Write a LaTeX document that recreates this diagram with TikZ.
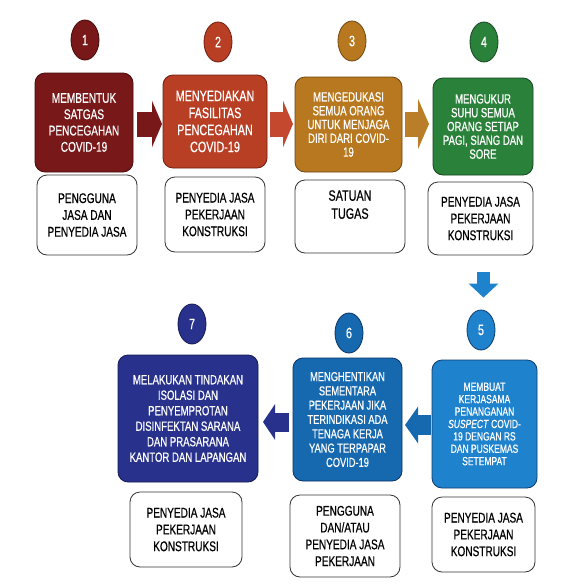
\documentclass[tikz,border=0pt]{standalone}
\usepackage{fontspec}
\newfontfamily\nar[FakeStretch=0.72,FakeBold=0.6]{Liberation Sans}
\usetikzlibrary{shapes.geometric,arrows.meta,calc}
\definecolor{cA}{RGB}{120,24,24}
\definecolor{cAd}{RGB}{70,10,10}
\definecolor{cB}{RGB}{184,62,36}
\definecolor{cBd}{RGB}{110,30,15}
\definecolor{cC}{RGB}{184,120,32}
\definecolor{cCd}{RGB}{110,70,15}
\definecolor{cD}{RGB}{42,130,58}
\definecolor{cDd}{RGB}{20,70,30}
\definecolor{cE}{RGB}{30,130,205}
\definecolor{cEd}{RGB}{15,60,110}
\definecolor{cF}{RGB}{22,105,175}
\definecolor{cFd}{RGB}{10,50,100}
\definecolor{cG}{RGB}{40,50,140}
\definecolor{cGd}{RGB}{20,25,80}
\definecolor{aB}{RGB}{195,72,45}
\definecolor{aC}{RGB}{186,126,40}
\begin{document}
\begin{tikzpicture}[x=1pt,y=-1pt,
  cbox/.style={rectangle,rounded corners=10pt,line width=0.8pt,inner sep=1pt,outer sep=0pt,
     align=center,text=white},
  wbox/.style={rectangle,rounded corners=10pt,draw=black!80,line width=0.8pt,fill=white,
     inner sep=1pt,outer sep=0pt,align=center,text=black,
     font=\nar\fontsize{14}{16.8}\selectfont},
  numell/.style={ellipse,minimum width=28pt,minimum height=40pt,inner sep=0pt,line width=0.8pt,
     text=white,font=\nar\fontsize{15}{16}\selectfont}
]
\useasboundingbox (0,0) rectangle (571,584);
\fill[white] (0,0) rectangle (571,584);

% circles
\node[numell,fill=cA,draw=cAd] (c1) at (85,40) {1};
\node[numell,fill=cB,draw=cBd] (c2) at (218,42) {2};
\node[numell,fill=cC,draw=cCd] (c3) at (352,41) {3};
\node[numell,fill=cD,draw=cDd] (c4) at (484,42) {4};
\node[numell,fill=cE,draw=cEd] (c5) at (481,330) {5};
\node[numell,fill=cF,draw=cFd] (c6) at (349,333) {6};
\node[numell,fill=cG,draw=cGd] (c7) at (192,324) {7};

% row 1 coloured boxes
\node[cbox,fill=cA,draw=cAd,minimum width=98pt,minimum height=99pt,
  font=\nar\fontsize{14}{16.3}\selectfont] (b1) at (84,122.5)
  {MEMBENTUK\\SATGAS\\PENCEGAHAN\\COVID-19};
\node[cbox,fill=cB,draw=cBd,minimum width=104pt,minimum height=93pt,
  font=\nar\fontsize{15}{17}\selectfont] (b2) at (215,121.5)
  {MENYEDIAKAN\\FASILITAS\\PENCEGAHAN\\COVID-19};
\node[cbox,fill=cC,draw=cCd,minimum width=107pt,minimum height=95pt,
  font=\nar\fontsize{13.3}{13.8}\selectfont] (b3) at (348.5,124.5)
  {MENGEDUKASI\\SEMUA ORANG\\UNTUK MENJAGA\\DIRI DARI COVID-\\19};
\node[cbox,fill=cD,draw=cDd,minimum width=100pt,minimum height=97pt,
  font=\nar\fontsize{13.3}{13.8}\selectfont] (b4) at (483,126.5)
  {MENGUKUR\\SUHU SEMUA\\ORANG SETIAP\\PAGI, SIANG DAN\\SORE};

% row 1 white boxes
\node[wbox,minimum width=100pt,minimum height=80pt] (w1) at (87,215)
  {PENGGUNA\\JASA DAN\\PENYEDIA JASA};
\node[wbox,minimum width=100pt,minimum height=75pt] (w2) at (215,214.5)
  {PENYEDIA JASA\\PEKERJAAN\\KONSTRUKSI};
\node[wbox,minimum width=110pt,minimum height=73pt,font=\nar\fontsize{15}{18}\selectfont] (w3) at (350,216.5)
  {SATUAN\\TUGAS\\[6pt]};
\node[wbox,minimum width=105pt,minimum height=73pt] (w4) at (480.5,218.5)
  {PENYEDIA JASA\\PEKERJAAN\\KONSTRUKSI};

% row 2 coloured boxes
\node[cbox,fill=cE,draw=cEd,minimum width=105pt,minimum height=128pt,
  font=\nar\fontsize{11.8}{12.4}\selectfont] (b5) at (484.5,424)
  {MEMBUAT\\KERJASAMA\\PENANGANAN\\\textit{SUSPECT} COVID-\\19 DENGAN RS\\DAN PUSKEMAS\\SETEMPAT};
\node[cbox,fill=cF,draw=cFd,minimum width=109pt,minimum height=123pt,
  font=\nar\fontsize{12.9}{14.3}\selectfont] (b6) at (347.5,419.5)
  {MENGHENTIKAN\\SEMENTARA\\PEKERJAAN JIKA\\TERINDIKASI ADA\\TENAGA KERJA\\YANG TERPAPAR\\COVID-19};
\node[cbox,fill=cG,draw=cGd,minimum width=140pt,minimum height=127pt,
  font=\nar\fontsize{13.3}{15.5}\selectfont] (b7) at (188,418.5)
  {MELAKUKAN TINDAKAN\\ISOLASI DAN\\PENYEMPROTAN\\DISINFEKTAN SARANA\\DAN PRASARANA\\KANTOR DAN LAPANGAN};

% row 2 white boxes
\node[wbox,minimum width=103pt,minimum height=75pt] (w5) at (483.5,534.5)
  {PENYEDIA JASA\\PEKERJAAN\\KONSTRUKSI};
\node[wbox,minimum width=110pt,minimum height=82pt] (w6) at (345,536)
  {PENGGUNA\\DAN/ATAU\\PENYEDIA JASA\\PEKERJAAN};
\node[wbox,minimum width=112pt,minimum height=75pt] (w7) at (186,529.5)
  {PENYEDIA JASA\\PEKERJAAN\\KONSTRUKSI};

% block arrows
\draw[cA,line width=25pt,-{Triangle[length=10pt,width=46pt]},shorten <=4pt,shorten >=1pt]
  ($(b1.east)+(0,1.5)$) -- ($(b1.east -| b2.west)+(0,1.5)$);
\draw[aB,line width=25pt,-{Triangle[length=10pt,width=46pt]},shorten <=3pt,shorten >=2pt]
  ($(b2.east)+(0,2.5)$) -- ($(b2.east -| b3.west)+(0,2.5)$);
\draw[aC,line width=25pt,-{Triangle[length=11pt,width=50pt]},shorten <=3pt,shorten >=4pt]
  ($(b3.east)+(0,-0.5)$) -- ($(b3.east -| b4.west)+(0,-0.5)$);
\coordinate (dtop) at ($(w4.south)+(3,17)$);
\draw[cE,line width=13pt,-{Triangle[length=14pt,width=29pt]},shorten >=12pt]
  (dtop) -- (dtop |- c5.north);
\draw[cF,line width=20pt,-{Triangle[length=13pt,width=36pt]},shorten <=1pt,shorten >=3pt]
  ($(b5.west)+(0,1)$) -- ($(b5.west -| b6.east)+(0,1)$);
\draw[cG,line width=19pt,-{Triangle[length=12pt,width=35pt]},shorten <=4pt,shorten >=5pt]
  ($(b6.west)+(0,2.5)$) -- ($(b6.west -| b7.east)+(0,2.5)$);
\end{tikzpicture}
\end{document}
